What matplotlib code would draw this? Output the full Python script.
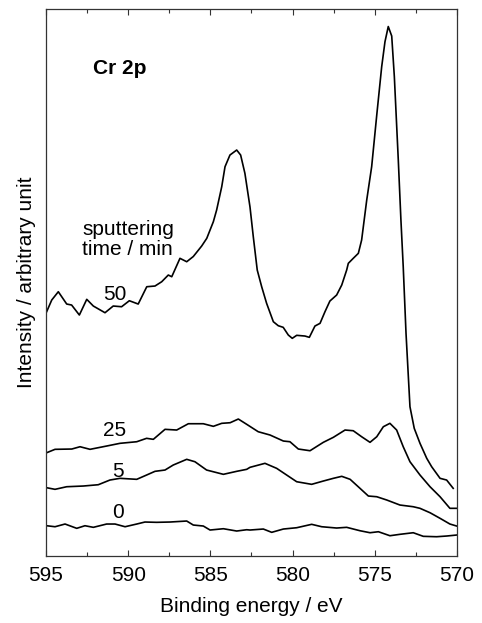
import matplotlib
matplotlib.use('Agg')
import matplotlib.pyplot as plt
from matplotlib.ticker import MultipleLocator

plt.rcParams['font.family'] = ['Liberation Sans', 'DejaVu Sans']

# Cr 2p spectra, binding energy (eV) and intensity (arbitrary units)
e_0 = [594.96, 594.45, 593.84, 593.13, 592.63, 592.12, 591.31, 590.80, 590.19,
       589.48, 588.98, 588.27, 587.46, 586.44, 586.04, 585.43, 585.02, 584.21,
       583.40, 582.79, 582.59, 581.78, 581.27, 580.56, 579.75, 578.84, 578.23,
       577.32, 576.71, 575.90, 575.29, 574.78, 574.08, 573.47, 572.66, 572.05,
       571.24, 570.63, 570.02]
i_0 = [30.3, 29.3, 32.0, 27.7, 30.3, 28.7, 32.0, 32.0, 29.3,
       32.0, 34.0, 33.7, 34.0, 35.0, 31.0, 30.0, 26.0, 27.3,
       25.0, 26.3, 26.0, 27.0, 23.7, 27.0, 28.3, 31.7, 29.3,
       28.0, 28.7, 25.3, 23.3, 24.3, 20.3, 21.7, 23.3, 19.7,
       19.3, 20.0, 21.0]

e_5 = [594.96, 594.45, 593.74, 592.73, 591.82, 591.11, 590.50, 589.48, 588.88,
       588.37, 587.76, 587.26, 586.44, 585.94, 585.23, 584.21, 583.40, 582.79,
       582.59, 581.68, 580.97, 580.36, 579.75, 578.84, 578.13, 577.52, 577.01,
       576.50, 575.90, 575.39, 574.88, 574.27, 573.47, 572.66, 572.25, 571.64,
       571.03, 570.43, 570.02]
i_5 = [68.3, 66.7, 69.3, 70.0, 71.3, 76.0, 77.7, 76.7, 81.0,
       84.7, 86.0, 91.0, 96.7, 94.3, 86.0, 81.7, 84.7, 86.7,
       88.7, 92.7, 87.7, 81.0, 74.3, 71.7, 75.0, 77.7, 79.7,
       76.7, 67.7, 60.0, 59.3, 56.0, 51.0, 49.3, 47.7, 43.3,
       37.7, 32.0, 30.0]

e_25 = [594.96, 594.45, 593.43, 592.93, 592.32, 591.31, 590.50, 589.48, 588.88,
        588.47, 587.76, 587.05, 586.34, 585.43, 584.82, 584.31, 583.80, 583.30,
        582.79, 582.09, 581.37, 580.56, 580.16, 579.65, 578.94, 578.13, 577.52,
        576.81, 576.31, 575.80, 575.29, 574.88, 574.48, 574.08, 573.67, 573.27,
        572.86, 572.25, 571.64, 571.03, 570.43, 570.02]
i_25 = [103.3, 106.7, 107.0, 109.3, 106.7, 110.0, 112.7, 114.3, 117.7,
        116.7, 126.7, 126.0, 132.3, 132.3, 129.7, 132.7, 133.3, 137.0,
        131.7, 124.3, 121.0, 115.0, 114.3, 107.0, 105.3, 113.7, 118.7,
        126.0, 125.3, 119.3, 113.7, 119.3, 129.3, 132.7, 126.0, 109.3,
        94.3, 81.0, 69.3, 59.3, 47.7, 47.7]

e_50 = [594.96, 594.65, 594.25, 593.74, 593.44, 592.97, 592.52, 592.12, 591.41,
        590.91, 590.40, 589.93, 589.39, 588.87, 588.37, 587.96, 587.56, 587.35,
        586.85, 586.44, 586.04, 585.53, 585.22, 584.82, 584.62, 584.31, 584.11,
        583.81, 583.40, 583.16, 582.90, 582.59, 582.39, 582.15, 581.88, 581.58,
        581.17, 580.87, 580.57, 580.26, 580.02, 579.75, 579.25, 578.98, 578.64,
        578.33, 578.03, 577.73, 577.32, 577.01, 576.71, 576.61, 576.31, 576.00,
        575.80, 575.49, 575.19, 574.88, 574.58, 574.38, 574.18, 573.97, 573.81,
        573.57, 573.41, 573.27, 573.10, 572.86, 572.60, 572.25, 571.84, 571.54,
        571.03, 570.63, 570.23]
i_50 = [244.3, 256.0, 264.3, 252.0, 251.0, 241.0, 256.7, 250.0, 243.3,
        250.0, 249.3, 255.3, 252.0, 269.3, 270.0, 274.3, 281.0, 279.3,
        297.7, 294.3, 299.5, 310.0, 317.7, 334.3, 346.0, 369.3, 389.3,
        401.0, 406.0, 401.0, 382.7, 349.0, 319.3, 286.0, 269.3, 252.7,
        234.3, 230.3, 228.7, 221.0, 217.7, 220.7, 220.0, 218.7, 230.0,
        232.7, 244.3, 255.0, 261.0, 271.0, 286.0, 292.7, 297.7, 302.7,
        316.0, 356.0, 389.3, 441.0, 489.3, 514.3, 529.5, 520.0, 479.3,
        396.0, 336.0, 289.3, 222.7, 149.3, 127.7, 112.7, 97.7, 89.3,
        77.7, 76.0, 67.7]

fig = plt.figure(figsize=(4.82, 6.23), dpi=100)
ax = fig.add_axes([0.0954, 0.1075, 0.8527, 0.878])

for e, i in [(e_0, i_0), (e_5, i_5), (e_25, i_25), (e_50, i_50)]:
    ax.plot(e, i, color='black', linewidth=1.2)

ax.set_xlim(595, 570)
ax.set_ylim(0, 547)

ax.xaxis.set_major_locator(MultipleLocator(5))
ax.xaxis.set_minor_locator(MultipleLocator(2.5))
ax.tick_params(axis='x', which='both', direction='in', top=True,
               labelsize=15, pad=7, color='#333333')
ax.tick_params(axis='x', which='major', length=4.5, width=0.8)
ax.tick_params(axis='x', which='minor', length=3, width=0.8)
ax.set_yticks([])
for s in ax.spines.values():
    s.set_linewidth(0.9)
    s.set_color('#333333')

ax.set_xlabel('Binding energy / eV', fontsize=15, labelpad=9)
ax.set_ylabel('Intensity / arbitrary unit', fontsize=15, labelpad=7)

# annotations
ax.text(0.115, 0.892, 'Cr 2p', transform=ax.transAxes, fontsize=15,
        fontweight='bold', va='center', ha='left')
ax.text(0.088, 0.579, 'sputtering\ntime / min', transform=ax.transAxes,
        fontsize=15, va='center', ha='left', linespacing=1.05)
ax.text(590.8, 262, '50', fontsize=15, ha='center', va='center')
ax.text(590.8, 126, '25', fontsize=15, ha='center', va='center')
ax.text(590.6, 85, '5', fontsize=15, ha='center', va='center')
ax.text(590.6, 44, '0', fontsize=15, ha='center', va='center')

fig.savefig('out.png', dpi=100)
